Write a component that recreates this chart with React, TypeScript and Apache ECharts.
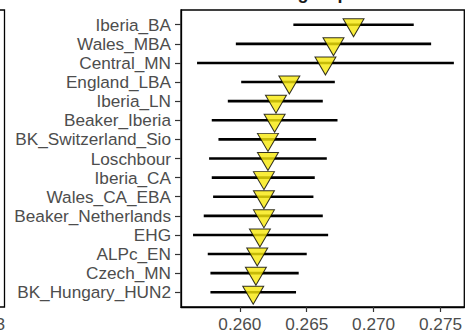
import React, { useEffect, useRef } from "react";
import * as echarts from "echarts";

const categories = [
  "Iberia_BA",
  "Wales_MBA",
  "Central_MN",
  "England_LBA",
  "Iberia_LN",
  "Beaker_Iberia",
  "BK_Switzerland_Sio",
  "Loschbour",
  "Iberia_CA",
  "Wales_CA_EBA",
  "Beaker_Netherlands",
  "EHG",
  "ALPc_EN",
  "Czech_MN",
  "BK_Hungary_HUN2",
];
const estimates = [
  0.2685, 0.2670, 0.2664, 0.2637, 0.2627, 0.2626, 0.2621, 0.2621, 0.2618,
  0.2618, 0.2618, 0.2615, 0.2613, 0.2612, 0.2610,
];
const lows = [
  0.2640, 0.2597, 0.2568, 0.2601, 0.2591, 0.2579, 0.2584, 0.2577, 0.2579,
  0.2580, 0.2573, 0.2565, 0.2576, 0.2578, 0.2578,
];
const highs = [
  0.2730, 0.2743, 0.2760, 0.2671, 0.2662, 0.2673, 0.2657, 0.2665, 0.2656,
  0.2655, 0.2662, 0.2666, 0.2650, 0.2644, 0.2642,
];
const xTicks = [0.26, 0.265, 0.27, 0.275];

export default function App() {
  const ref = useRef<HTMLDivElement>(null);
  useEffect(() => {
    if (!ref.current) return;
    const chart = echarts.init(ref.current, null, { renderer: "svg" });
    const idx = categories.map((_, i) => i);
    const textColor = "#4D4D4D";
    const font = "'Liberation Sans', Arial, sans-serif";
    const fs = 17.2;
    chart.setOption({
      animation: false,
      backgroundColor: "#fff",
      grid: {
        left: 181,
        top: 10,
        right: -5,
        bottom: 27,
        show: true,
        borderColor: "#000",
        borderWidth: 1.3,
        backgroundColor: "transparent",
      },
      xAxis: {
        type: "value",
        min: 0.2556,
        max: 0.27678,
        splitLine: { show: false },
        axisLine: {
          show: true,
          onZero: false,
          lineStyle: { color: "#000", width: 1.3 },
        },
        axisTick: {
          show: true,
          length: 5,
          customValues: xTicks,
          lineStyle: { color: "#333", width: 1.2 },
        },
        axisLabel: {
          customValues: xTicks,
          margin: 8,
          color: textColor,
          fontSize: fs,
          fontFamily: font,
          formatter: (v: number) => v.toFixed(3),
        },
      },
      yAxis: {
        type: "value",
        inverse: true,
        min: -0.77,
        max: 14.77,
        splitLine: { show: false },
        axisLine: {
          show: true,
          onZero: false,
          lineStyle: { color: "#000", width: 1.3 },
        },
        axisTick: {
          show: true,
          length: 6,
          customValues: idx,
          lineStyle: { color: "#333", width: 1.2 },
        },
        axisLabel: {
          customValues: idx,
          margin: 10,
          color: textColor,
          fontSize: fs,
          fontFamily: font,
          formatter: (v: number) => categories[Math.round(v)] ?? "",
        },
      },
      graphic: [
        {
          type: "polyline",
          shape: {
            points: [
              [0, 10],
              [4.5, 10],
              [4.5, 307],
              [0, 307],
            ],
          },
          style: { stroke: "#000", lineWidth: 1.3, fill: "none" },
        },
        {
          type: "text",
          x: 5,
          y: 324,
          style: {
            text: "0.273",
            align: "right",
            verticalAlign: "middle",
            fill: textColor,
            fontSize: fs,
            fontFamily: font,
          },
        },
        {
          type: "text",
          x: 318,
          y: 1.5,
          style: {
            text: "Outgroup f3",
            align: "center",
            verticalAlign: "bottom",
            fill: "#1a1a1a",
            fontSize: 18,
            fontWeight: "bold",
            fontFamily: font,
          },
        },
      ],
      series: [
        {
          type: "custom",
          data: idx.map((i) => [i, lows[i], highs[i]]),
          encode: { x: [1, 2], y: 0 },
          renderItem: (_p: any, api: any) => {
            const a = api.coord([api.value(1), api.value(0)]);
            const b = api.coord([api.value(2), api.value(0)]);
            return {
              type: "line",
              shape: { x1: a[0], y1: a[1], x2: b[0], y2: b[1] },
              style: { stroke: "#000", lineWidth: 2.6 },
            };
          },
          z: 2,
        },
        {
          type: "scatter",
          data: idx.map((i) => [estimates[i], i]),
          symbol: "triangle",
          symbolRotate: 180,
          symbolSize: [21, 18],
          symbolOffset: [0, 3],
          itemStyle: { color: "#F7E80A", borderColor: "#000", borderWidth: 1 },
          z: 3,
        },
      ],
    });
    return () => chart.dispose();
  }, []);
  return (
    <div
      ref={ref}
      style={{ position: "fixed", left: 0, top: 0, width: 465, height: 334 }}
    />
  );
}
